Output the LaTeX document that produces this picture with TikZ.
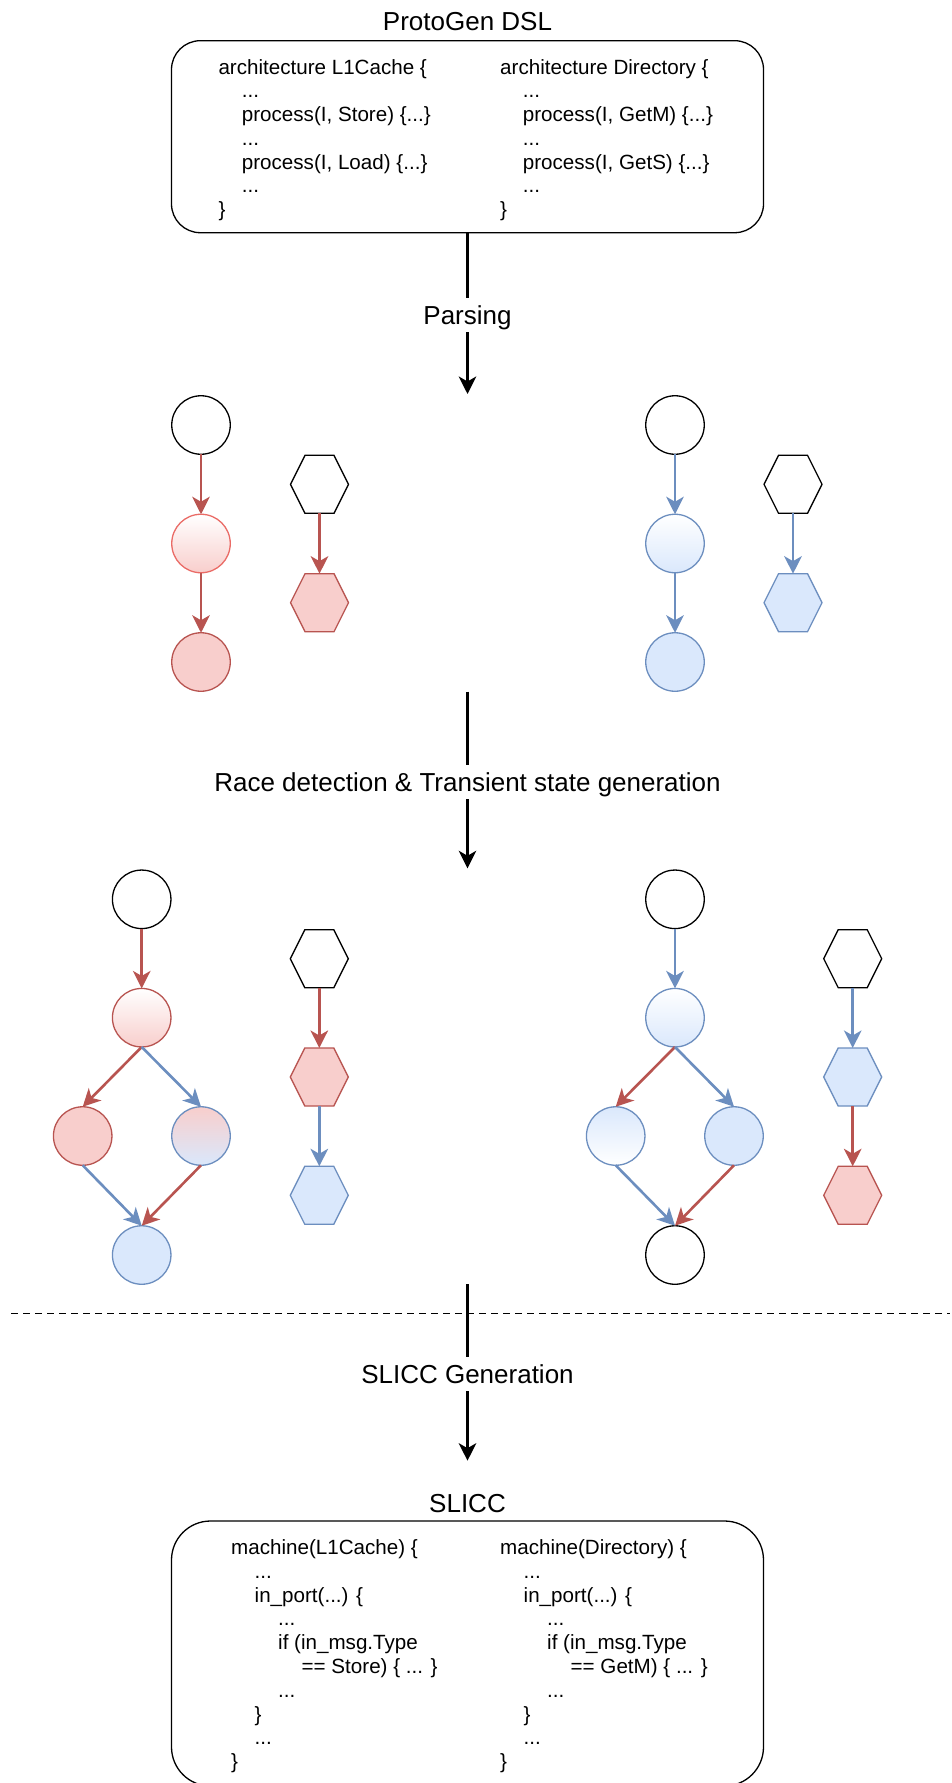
\documentclass[tikz,border=0pt]{standalone}
\usepackage{fontspec}
\setmainfont{Liberation Sans}
\usetikzlibrary{arrows.meta}
\definecolor{rs}{HTML}{B85450}
\definecolor{rf}{HTML}{F8CECC}
\definecolor{rl}{HTML}{EA6B66}
\definecolor{bs}{HTML}{6C8EBF}
\definecolor{bf}{HTML}{DAE8FC}
\makeatletter
\newdimen\rskxl \newdimen\rskxr \newdimen\rskyb \newdimen\rskyt
\newdimen\rskym \newdimen\rskq \newdimen\rskxa \newdimen\rskxb
\pgfdeclareshape{hexbox}{
  \inheritsavedanchors[from=rectangle]
  \inheritanchorborder[from=rectangle]
  \inheritanchor[from=rectangle]{center}
  \inheritanchor[from=rectangle]{north}
  \inheritanchor[from=rectangle]{south}
  \inheritanchor[from=rectangle]{east}
  \inheritanchor[from=rectangle]{west}
  \backgroundpath{%
    \southwest \rskxl=\pgf@x \rskyb=\pgf@y
    \northeast \rskxr=\pgf@x \rskyt=\pgf@y
    \rskym=\rskyb \advance\rskym by \rskyt \divide\rskym by 2
    \rskq=\rskxr \advance\rskq by -\rskxl \divide\rskq by 4
    \rskxa=\rskxl \advance\rskxa by \rskq
    \rskxb=\rskxr \advance\rskxb by -\rskq
    \pgfpathmoveto{\pgfqpoint{\rskxl}{\rskym}}%
    \pgfpathlineto{\pgfqpoint{\rskxa}{\rskyt}}%
    \pgfpathlineto{\pgfqpoint{\rskxb}{\rskyt}}%
    \pgfpathlineto{\pgfqpoint{\rskxr}{\rskym}}%
    \pgfpathlineto{\pgfqpoint{\rskxb}{\rskyb}}%
    \pgfpathlineto{\pgfqpoint{\rskxa}{\rskyb}}%
    \pgfpathclose
  }
}
\makeatother
\tikzset{
  circ/.style={circle, minimum size=58.5pt, inner sep=0pt, outer sep=0pt, line width=1.3pt},
  hexa/.style={shape=hexbox, minimum width=58pt, minimum height=58pt, inner sep=0pt, outer sep=0pt, line width=1.3pt},
  wht/.style={draw=black, fill=white},
  redf/.style={draw=rs, fill=rf},
  bluf/.style={draw=bs, fill=bf},
  arr/.style={line width=2.6pt, -{Stealth[length=17.5pt, width=17.5pt, inset=5pt]}},
  ra/.style={arr, draw=rs},
  ba/.style={arr, draw=bs},
  ka/.style={arr, draw=black},
  codebox/.style={draw=black, line width=1.3pt, minimum width=592pt, inner sep=0pt, outer sep=0pt},
  code/.style={anchor=base west, inner sep=0pt, font=\fontsize{20.6}{24}\selectfont},
  ttl/.style={anchor=base, inner sep=0pt, font=\fontsize{26}{31}\selectfont},
  lbl/.style={anchor=base, fill=white, inner xsep=3pt, inner ysep=7.5pt, text height=19pt, text depth=0pt, font=\fontsize{26}{31}\selectfont},
}
\begin{document}
\begin{tikzpicture}[x=1pt, y=-1pt]
\useasboundingbox (0,0) rectangle (952,1783);
\clip (0,0) rectangle (952,1783);
\fill[white] (0,0) rectangle (952,1783);

% ---------- ProtoGen DSL ----------
\node[ttl] (ttop) at (467.5,30) {ProtoGen DSL};
\node[codebox, minimum height=192pt, rounded corners=28.8pt] (dsl) at (467.5,136.7) {};
\node[code] (t1) at (218.3,74.2) {architecture L1Cache \{};
\node[code] (t2) at (241.7,97.9) {...};
\node[code] (t3) at (241.7,121.6) {process(I, Store) \{...\}};
\node[code] (t4) at (241.7,145.3) {...};
\node[code] (t5) at (241.7,169.0) {process(I, Load) \{...\}};
\node[code] (t6) at (241.7,192.7) {...};
\node[code] (t7) at (218.3,216.4) {\}};
\node[code] (u1) at (500,74.2) {architecture Directory \{};
\node[code] (u2) at (522.7,97.9) {...};
\node[code] (u3) at (522.7,121.6) {process(I, GetM) \{...\}};
\node[code] (u4) at (522.7,145.3) {...};
\node[code] (u5) at (522.7,169.0) {process(I, GetS) \{...\}};
\node[code] (u6) at (522.7,192.7) {...};
\node[code] (u7) at (500,216.4) {\}};

% ---------- Parsing arrow ----------
\coordinate (pend) at (467.5,394);
\draw[ka] (dsl.south) -- (pend);
\node[lbl] (lparse) at (467.5,324) {Parsing};

% ---------- Section 2 ----------
\node[circ, wht] (a1) at (201,425) {};
\node[circ, draw=rl, top color=white, bottom color=rf] (a2) at (201,543.5) {};
\node[circ, redf] (a3) at (201,662) {};
\node[hexa, wht] (ah1) at (319.5,484.3) {};
\node[hexa, redf] (ah2) at (319.5,602.7) {};
\draw[ra] (a1.south) -- (a2.north);
\draw[ra] (a2.south) -- (a3.north);
\draw[ra] (ah1.south) -- (ah2.north);

\node[circ, wht] (b1) at (675,425) {};
\node[circ, draw=bs, top color=white, bottom color=bf] (b2) at (675,543.5) {};
\node[circ, bluf] (b3) at (675,662) {};
\node[hexa, wht] (bh1) at (793,484.3) {};
\node[hexa, bluf] (bh2) at (793,602.7) {};
\draw[ba] (b1.south) -- (b2.north);
\draw[ba] (b2.south) -- (b3.north);
\draw[ba] (bh1.south) -- (bh2.north);

% ---------- Race detection arrow ----------
\coordinate (rstart) at (467.5,691.7);
\coordinate (rend) at (467.5,868.3);
\draw[ka] (rstart) -- (rend);
\node[lbl] (lrace) at (467.5,791) {Race detection \& Transient state generation};

% ---------- Section 3 left ----------
\node[circ, wht] (c1) at (141.7,899.3) {};
\node[circ, draw=rs, top color=white, bottom color=rf] (c2) at (141.7,1017.7) {};
\node[circ, redf] (c3) at (82.7,1136) {};
\node[circ, draw=bs, top color=rf, bottom color=bf] (c4) at (201,1136) {};
\node[circ, bluf] (c5) at (141.7,1255) {};
\node[hexa, wht] (ch1) at (319.3,958.7) {};
\node[hexa, redf] (ch2) at (319.3,1077) {};
\node[hexa, bluf] (ch3) at (319.3,1195.3) {};
\draw[ra] (c1.south) -- (c2.north);
\draw[ra] (c2.south) -- (c3.north);
\draw[ba] (c2.south) -- (c4.north);
\draw[ba] (c3.south) -- (c5.north);
\draw[ra] (c4.south) -- (c5.north);
\draw[ra] (ch1.south) -- (ch2.north);
\draw[ba] (ch2.south) -- (ch3.north);

% ---------- Section 3 right ----------
\node[circ, wht] (d1) at (675,899.3) {};
\node[circ, draw=bs, top color=white, bottom color=bf] (d2) at (675,1017.7) {};
\node[circ, draw=bs, top color=bf, bottom color=white] (d3) at (615.7,1136) {};
\node[circ, bluf] (d4) at (734,1136) {};
\node[circ, wht] (d5) at (675,1255) {};
\node[hexa, wht] (dh1) at (852.7,958.7) {};
\node[hexa, bluf] (dh2) at (852.7,1077) {};
\node[hexa, redf] (dh3) at (852.7,1195.3) {};
\draw[ba] (d1.south) -- (d2.north);
\draw[ra] (d2.south) -- (d3.north);
\draw[ba] (d2.south) -- (d4.north);
\draw[ba] (d3.south) -- (d5.north);
\draw[ra] (d4.south) -- (d5.north);
\draw[ba] (dh1.south) -- (dh2.north);
\draw[ra] (dh2.south) -- (dh3.north);

% ---------- separator ----------
\draw[line width=1.3pt, dash pattern=on 7pt off 5pt] (11,1313.3) -- (950,1313.3);

% ---------- SLICC Generation arrow ----------
\coordinate (gstart) at (467.5,1284);
\coordinate (gend) at (467.5,1460.7);
\draw[ka] (gstart) -- (gend);
\node[lbl] (lgen) at (467.5,1383.3) {SLICC Generation};

% ---------- SLICC ----------
\node[ttl] (tslicc) at (467.5,1512.7) {SLICC};
\node[codebox, minimum height=265pt, rounded corners=39pt] (slicc) at (467.5,1653.5) {};
\node[code] (s1) at (231,1554.5) {machine(L1Cache) \{};
\node[code] (s2) at (254.5,1578.3) {...};
\node[code] (s3) at (254.5,1602.1) {in\_port(...) \{};
\node[code] (s4) at (278,1625.9) {...};
\node[code] (s5) at (278,1649.7) {if (in\_msg.Type};
\node[code] (s6) at (301.5,1673.5) {== Store) \{ ... \}};
\node[code] (s7) at (278,1697.3) {...};
\node[code] (s8) at (254.5,1721.1) {\}};
\node[code] (s9) at (254.5,1744.9) {...};
\node[code] (s10) at (231,1768.7) {\}};
\node[code] (v1) at (500,1554.5) {machine(Directory) \{};
\node[code] (v2) at (523.5,1578.3) {...};
\node[code] (v3) at (523.5,1602.1) {in\_port(...) \{};
\node[code] (v4) at (547,1625.9) {...};
\node[code] (v5) at (547,1649.7) {if (in\_msg.Type};
\node[code] (v6) at (570.5,1673.5) {== GetM) \{ ... \}};
\node[code] (v7) at (547,1697.3) {...};
\node[code] (v8) at (523.5,1721.1) {\}};
\node[code] (v9) at (523.5,1744.9) {...};
\node[code] (v10) at (500,1768.7) {\}};
\end{tikzpicture}
\end{document}
